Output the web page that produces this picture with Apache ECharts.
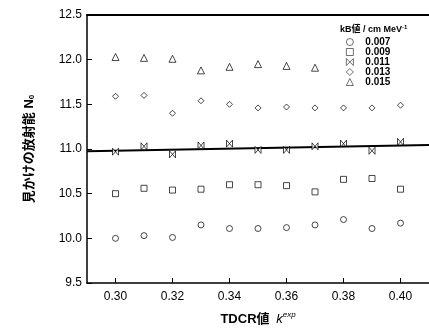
<!DOCTYPE html>
<html>
<head>
<meta charset="utf-8">
<script src="https://cdn.jsdelivr.net/npm/echarts@6/dist/echarts.min.js"></script>
<style>
  html, body { margin: 0; padding: 0; background: #fff; }
  #chart { width: 429px; height: 336px; }
</style>
</head>
<body>
<div id="chart"></div>
<script>
// TDCR値
var tdcr = [0.30, 0.31, 0.32, 0.33, 0.34, 0.35, 0.36, 0.37, 0.38, 0.39, 0.40];
var kbNames = ['0.007', '0.009', '0.011', '0.013', '0.015'];
var n007 = [10.00, 10.03, 10.01, 10.15, 10.11, 10.11, 10.12, 10.15, 10.21, 10.11, 10.17];
var n009 = [10.50, 10.56, 10.54, 10.55, 10.60, 10.60, 10.59, 10.52, 10.66, 10.67, 10.55];
var n011 = [10.97, 11.03, 10.94, 11.04, 11.06, 10.99, 10.99, 11.03, 11.06, 10.98, 11.08];
var n013 = [11.59, 11.60, 11.40, 11.54, 11.50, 11.46, 11.47, 11.46, 11.46, 11.46, 11.49];
var n015 = [12.03, 12.02, 12.01, 11.88, 11.92, 11.95, 11.93, 11.91];
var fitX = [0.29, 0.41];
var fitY = [10.975, 11.045];
var xTicks = [0.30, 0.32, 0.34, 0.36, 0.38, 0.40];

var font = '"Liberation Sans", "Noto Sans CJK JP", sans-serif';
var bowtie = 'path://M0,0 L0,10 L10,0 L10,10 Z';

function pts(ys) {
  return ys.map(function (y, i) { return [tdcr[i], y]; });
}
function scatter(name, ys, symbol, size) {
  return {
    name: name,
    type: 'scatter',
    data: pts(ys),
    symbol: symbol,
    symbolSize: size,
    itemStyle: { color: '#fff', borderColor: '#000', borderWidth: 0.9 }
  };
}

var chart = echarts.init(document.getElementById('chart'));
chart.setOption({
  animation: false,
  textStyle: { fontFamily: font, color: '#000' },
  grid: { left: 87, top: 15, width: 348, height: 268 },
  legend: {
    data: kbNames,
    orient: 'vertical',
    left: 346,
    top: 37,
    itemWidth: 7,
    itemHeight: 7,
    itemGap: 0,
    padding: 0,
    itemStyle: { color: '#fff', borderColor: '#000', borderWidth: 0.7 },
    textStyle: { fontSize: 10, lineHeight: 10, fontWeight: 'bold', color: '#000', fontFamily: font, padding: [0, 0, 0, 7] }
  },
  graphic: [{
    type: 'text',
    left: 340,
    top: 24,
    style: {
      text: '{a|kB値 / cm MeV}{s|-1}',
      rich: {
        a: { fontSize: 9, fontWeight: 'bold', fill: '#000', fontFamily: font },
        s: { fontSize: 6, fontWeight: 'bold', fill: '#000', verticalAlign: 'top', padding: [0, 0, 5, 0] }
      }
    }
  }],
  xAxis: [{
    type: 'value',
    min: 0.29,
    max: 0.41,
    position: 'bottom',
    splitLine: { show: false },
    axisLine: { lineStyle: { color: '#000', width: 1.5 } },
    axisTick: { inside: true, length: 5, customValues: xTicks, lineStyle: { color: '#000' } },
    axisLabel: {
      customValues: xTicks,
      fontSize: 12,
      color: '#000',
      margin: 8,
      formatter: function (v) { return v.toFixed(2); }
    },
    name: '{a|TDCR値}  {k|k}{e|exp}',
    nameLocation: 'middle',
    nameGap: 28,
    nameTextStyle: {
      rich: {
        a: { fontSize: 13, fontWeight: 'bold', color: '#000', fontFamily: font },
        k: { fontSize: 13, fontStyle: 'italic', color: '#000', fontFamily: font },
        e: { fontSize: 8, fontStyle: 'italic', color: '#000', verticalAlign: 'top', padding: [0, 0, 8, 0] }
      }
    }
  }, {
    type: 'value',
    min: 0.29,
    max: 0.41,
    position: 'top',
    splitLine: { show: false },
    axisLine: { show: true, lineStyle: { color: '#000', width: 2 } },
    axisTick: { show: false },
    axisLabel: { show: false }
  }],
  yAxis: {
    type: 'value',
    min: 9.5,
    max: 12.5,
    interval: 0.5,
    splitLine: { show: false },
    axisLine: { show: true, lineStyle: { color: '#000', width: 1.5 } },
    axisTick: { show: true, inside: true, length: 5, lineStyle: { color: '#000' } },
    axisLabel: {
      fontSize: 12,
      color: '#000',
      margin: 5,
      formatter: function (v) { return v.toFixed(1); }
    },
    name: '{a|見かけの放射能 N}{s|0}',
    nameLocation: 'middle',
    nameRotate: 90,
    nameGap: 51,
    nameTextStyle: {
      rich: {
        a: { fontSize: 13, fontWeight: 'bold', color: '#000', fontFamily: font },
        s: { fontSize: 8, fontWeight: 'bold', color: '#000', verticalAlign: 'bottom', padding: [6, 0, 0, 0] }
      }
    }
  },
  series: [
    scatter('0.007', n007, 'circle', 6),
    scatter('0.009', n009, 'rect', 6),
    scatter('0.011', n011, bowtie, [6, 7]),
    scatter('0.013', n013, 'diamond', 6),
    scatter('0.015', n015, 'triangle', 7),
    {
      type: 'line',
      data: fitX.map(function (x, i) { return [x, fitY[i]]; }),
      symbol: 'none',
      lineStyle: { color: '#000', width: 2 },
      z: 1
    }
  ]
});
</script>
</body>
</html>
